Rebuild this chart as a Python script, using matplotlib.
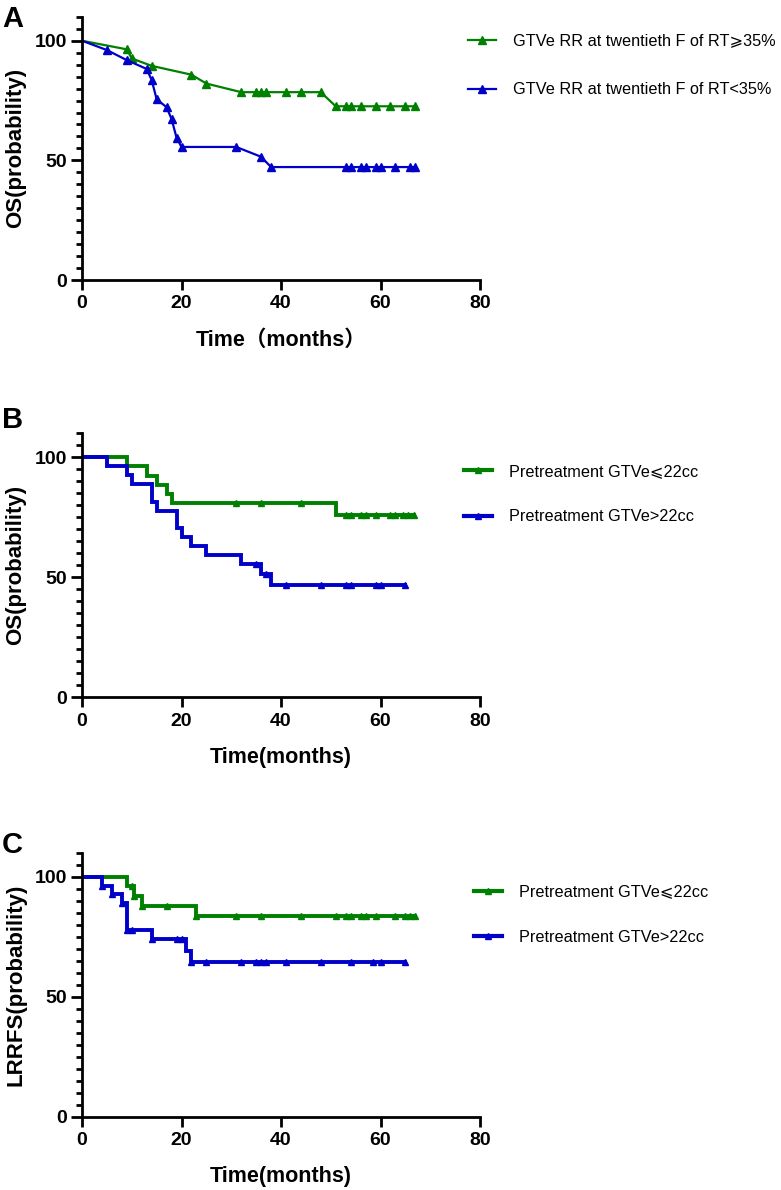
import matplotlib.pyplot as plt
import numpy as np
from matplotlib.ticker import MultipleLocator

plt.rcParams["font.family"] = ["Liberation Sans", "DejaVu Sans", "Noto Sans CJK SC"]
plt.rcParams["font.weight"] = "bold"
plt.rcParams["axes.labelweight"] = "bold"

GREEN = "#008000"
BLUE = "#0000c8"

# Panel A: connected points (time in months, OS %)
a_hi_t = [0, 9, 10, 14, 22, 25, 32, 35, 36, 37, 41, 44, 48, 51, 53, 54, 56, 59, 62, 65, 67]
a_hi_s = [100, 96.4, 92.6, 89.5, 85.8, 82.1, 78.5, 78.5, 78.5, 78.5, 78.5, 78.5, 78.5,
          72.6, 72.6, 72.6, 72.6, 72.6, 72.6, 72.6, 72.6]
a_lo_t = [0, 5, 9, 13, 14, 15, 17, 18, 19, 20, 31, 36, 38, 53, 54, 56, 57, 59, 60, 63, 66, 67]
a_lo_s = [100, 96.1, 91.9, 88.2, 83.6, 75.6, 72.2, 67.3, 59.5, 55.6, 55.6, 51.5, 47.2,
          47.2, 47.2, 47.2, 47.2, 47.2, 47.2, 47.2, 47.2, 47.2]
a_labels = ["GTVe RR at twentieth F of RT\u2a7e35%", "GTVe RR at twentieth F of RT<35%"]

# Panel B: Kaplan-Meier steps (event times / survival after event) and tick marks
b_hi_t = [0, 9, 13, 15, 17, 18, 51]
b_hi_s = [100, 96.2, 92.3, 88.5, 84.6, 80.8, 76.0]
b_hi_marks = [31, 36, 44, 53, 54, 56, 57, 59, 62, 63, 64.5, 65.5, 66.7]
b_lo_t = [0, 5, 9, 10, 14, 15, 19, 20, 22, 25, 32, 36, 38]
b_lo_s = [100, 96.3, 92.6, 88.9, 81.5, 77.8, 70.4, 66.7, 63.0, 59.3, 55.6, 51.3, 46.6]
b_lo_marks = [35, 37, 41, 48, 53, 54, 59, 60, 65]

# Panel C
c_hi_t = [0, 9, 10.5, 12, 23]
c_hi_s = [100, 96.0, 92.0, 88.0, 83.8]
c_hi_marks = [10, 10.5, 12, 17, 23, 31, 36, 44, 51, 53, 54, 56, 57, 59, 63, 65, 66, 67]
c_lo_t = [0, 4, 6, 8, 9, 14, 21, 22]
c_lo_s = [100, 96.3, 92.6, 88.9, 77.8, 74.1, 69.1, 64.4]
c_lo_marks = [4, 6, 8, 9, 10, 14, 19, 20, 22, 25, 32, 35, 36, 37, 41, 48, 54, 58.5, 60, 65]

bc_labels = ["Pretreatment GTVe\u2a7d22cc", "Pretreatment GTVe>22cc"]

W, H = 781, 1190
fig = plt.figure(figsize=(W / 100, H / 100), dpi=100)


def make_axes(y_zero_px, y_top_px):
    left, right = 82, 480
    ax = fig.add_axes([left / W, 1 - y_zero_px / H, (right - left) / W, (y_zero_px - y_top_px) / H])
    ax.set_xlim(0, 80)
    ax.set_ylim(0, 110)
    ax.set_xticks([0, 20, 40, 60, 80])
    ax.set_yticks([0, 50, 100])
    ax.yaxis.set_minor_locator(MultipleLocator(5))
    for side in ("top", "right"):
        ax.spines[side].set_visible(False)
    for side in ("left", "bottom"):
        ax.spines[side].set_linewidth(2)
    ax.tick_params(axis="y", which="major", length=8, width=2, labelsize=14, pad=2.5)
    ax.tick_params(axis="y", which="minor", length=4, width=2)
    ax.tick_params(axis="x", which="major", length=7, width=2, labelsize=14, pad=4)
    h_px = y_zero_px - y_top_px
    ax.xaxis.label.set_va("center")
    ax.yaxis.label.set_va("center")
    ax.xaxis.set_label_coords(0.5, -60 / h_px)
    ax.yaxis.set_label_coords((16 - left) / (right - left), 0.5)
    return ax


def km_plot(ax, t, s, marks, color):
    t = np.asarray(t, dtype=float)
    s = np.asarray(s, dtype=float)
    marks = np.asarray(marks, dtype=float)
    end = marks.max()
    x = np.append(t, end)
    y = np.append(s, s[-1])
    ax.step(x, y, where="post", color=color, lw=2.8, solid_joinstyle="miter")
    idx = np.searchsorted(t, marks, side="right") - 1
    ax.plot(marks, s[idx], ls="none", marker="^", ms=5, color=color)
    return ax.plot([], [], color=color, lw=3, marker="^", ms=5)[0]


def add_legend(ax, handles, labels, x_px, y_mid_px, spacing):
    ax.legend(handles, labels, loc="center left", bbox_to_anchor=(x_px / W, 1 - y_mid_px / H),
              bbox_transform=fig.transFigure, frameon=False, borderpad=0, borderaxespad=0,
              handlelength=1.7, handletextpad=1.05, labelspacing=spacing, numpoints=1,
              prop={"size": 11.7, "weight": "normal"})


# A
ax_a = make_axes(280, 16.8)
h1, = ax_a.plot(a_hi_t, a_hi_s, color=GREEN, lw=1.6, marker="^", ms=5.5, markevery=list(range(1, len(a_hi_t))))
h2, = ax_a.plot(a_lo_t, a_lo_s, color=BLUE, lw=1.6, marker="^", ms=5.5, markevery=list(range(1, len(a_lo_t))))
ax_a.set_xlabel("Time\uff08months\uff09", fontsize=15.5, fontweight="bold")
ax_a.set_ylabel("OS(probability)", fontsize=16, fontweight="bold")
add_legend(ax_a, [h1, h2], a_labels, 468, 65.4, 2.1)

# B
ax_b = make_axes(697.3, 433.3)
g1 = km_plot(ax_b, b_hi_t, b_hi_s, b_hi_marks, GREEN)
g2 = km_plot(ax_b, b_lo_t, b_lo_s, b_lo_marks, BLUE)
ax_b.set_xlabel("Time(months)", fontsize=15.5, fontweight="bold")
ax_b.set_ylabel("OS(probability)", fontsize=16, fontweight="bold")
add_legend(ax_b, [g1, g2], bc_labels, 464, 494.2, 1.85)

# C
ax_c = make_axes(1116.7, 852.7)
k1 = km_plot(ax_c, c_hi_t, c_hi_s, c_hi_marks, GREEN)
k2 = km_plot(ax_c, c_lo_t, c_lo_s, c_lo_marks, BLUE)
ax_c.set_xlabel("Time(months)", fontsize=15.5, fontweight="bold")
ax_c.set_ylabel("LRRFS(probability)", fontsize=16, fontweight="bold")
add_legend(ax_c, [k1, k2], bc_labels, 474, 914.5, 1.85)

for letter, base in (("A", 27), ("B", 428), ("C", 853)):
    fig.text(2 / W, 1 - base / H, letter, fontsize=21, fontweight="bold", va="baseline", ha="left")

fig.savefig("out.png", dpi=100)
